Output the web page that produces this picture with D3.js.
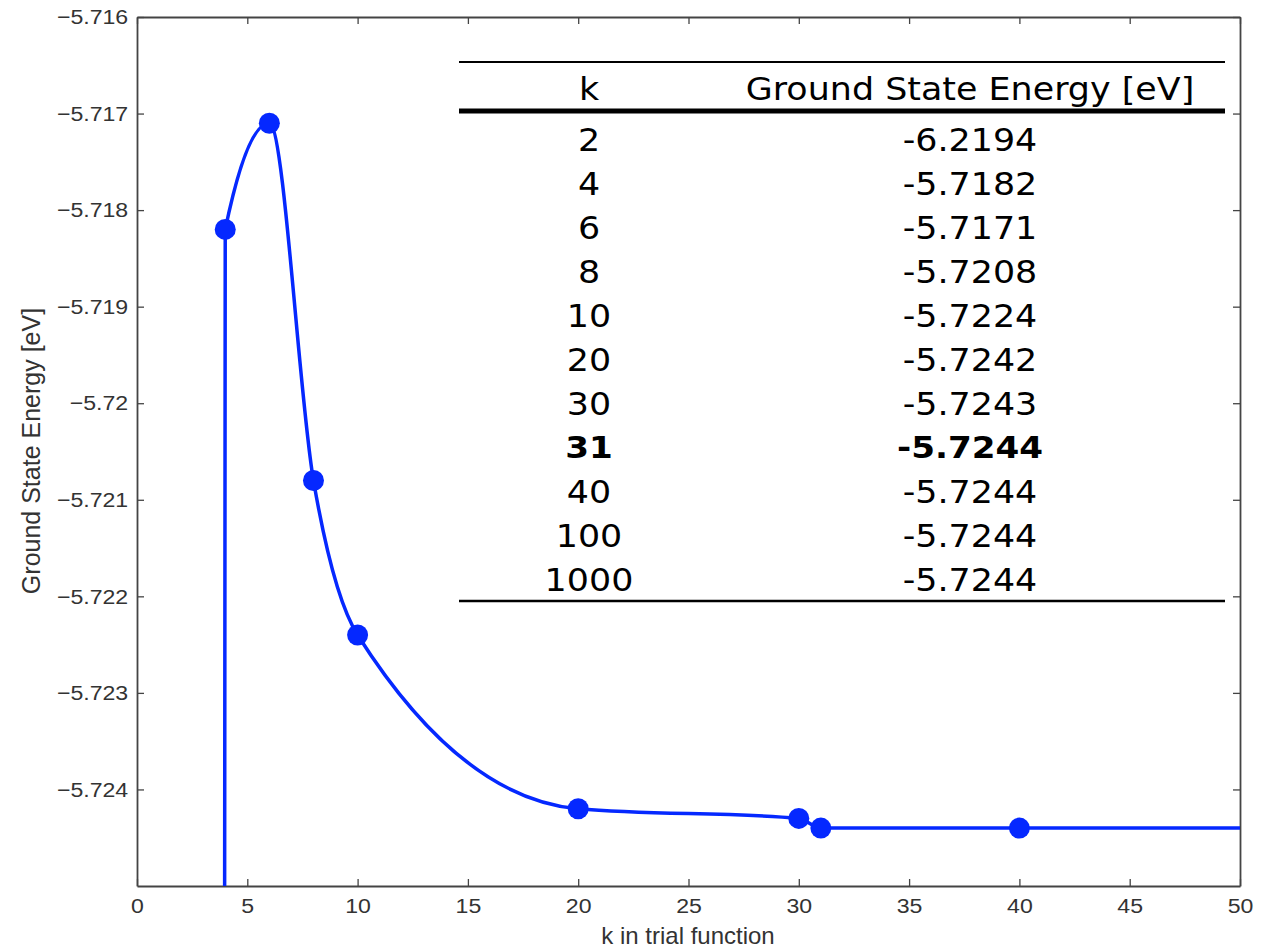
<!DOCTYPE html>
<html>
<head>
<meta charset="utf-8">
<script src="https://cdn.jsdelivr.net/npm/d3@7"></script>
<style>
  body { margin: 0; background: #fff; }
  .axis text { font-family: "Liberation Sans", Arial, sans-serif; font-size: 21px; fill: #333; }
  .axis path, .axis line { stroke: #444; }
</style>
</head>
<body>
<div id="chart"></div>
<script>
const kValues = [2, 4, 6, 8, 10, 20, 30, 31, 40, 100, 1000];
const energies = [-6.2194, -5.7182, -5.7171, -5.7208, -5.7224, -5.7242, -5.7243, -5.7244, -5.7244, -5.7244, -5.7244];
const xTicks = [0, 5, 10, 15, 20, 25, 30, 35, 40, 45, 50];
const yTicks = [-5.716, -5.717, -5.718, -5.719, -5.72, -5.721, -5.722, -5.723, -5.724];
const tableHeader = ["k", "Ground State Energy [eV]"];
const highlightK = 31;

const width = 1270, height = 949;
const margin = { top: 17, right: 30, bottom: 63, left: 137 };
const innerW = width - margin.left - margin.right;
const innerH = height - margin.top - margin.bottom;
const blue = "#0528ff";

const svg = d3.select("#chart")
  .append("svg")
  .attr("width", width)
  .attr("height", height);

const g = svg.append("g")
  .attr("transform", `translate(${margin.left},${margin.top})`);

const x = d3.scaleLinear().domain([0, 50]).range([0, innerW]);
const y = d3.scaleLinear().domain([-5.725, -5.716]).range([innerH, 0]);

const points = kValues.map((k, i) => ({ k: k, e: energies[i] }));

// clip to the plot box
g.append("clipPath").attr("id", "clip")
  .append("rect").attr("width", innerW).attr("height", innerH);

// axes, ticks pointing inward like matlab
const fmt = d3.format(".3~f");
const xAxis = g.append("g").attr("class", "axis")
  .attr("transform", `translate(0,${innerH})`)
  .call(d3.axisBottom(x).tickValues(xTicks).tickSizeInner(-7).tickSizeOuter(0).tickPadding(12));
g.append("g").attr("class", "axis")
  .call(d3.axisTop(x).tickValues(xTicks).tickSizeInner(-7).tickSizeOuter(0).tickFormat(""));
const yAxis = g.append("g").attr("class", "axis")
  .call(d3.axisLeft(y).tickValues(yTicks).tickFormat(fmt).tickSizeInner(-7).tickSizeOuter(0).tickPadding(8));
g.append("g").attr("class", "axis")
  .attr("transform", `translate(${innerW},0)`)
  .call(d3.axisRight(y).tickValues(yTicks).tickSizeInner(-7).tickSizeOuter(0).tickFormat(""));

g.selectAll(".axis path").attr("stroke-width", 1.8);
g.selectAll(".axis line").attr("stroke-width", 1.3);
xAxis.selectAll("text").attr("transform", "scale(1.1,1)");
yAxis.selectAll("text").attr("transform", "scale(1.1,1)");

// curve + markers
const line = d3.line()
  .x(d => x(d.k))
  .y(d => y(d.e))
  .curve(d3.curveMonotoneX);

const plot = g.append("g").attr("clip-path", "url(#clip)");
plot.append("path")
  .datum(points)
  .attr("fill", "none")
  .attr("stroke", blue)
  .attr("stroke-width", 3.5)
  .attr("d", line);

plot.selectAll("circle")
  .data(points)
  .join("circle")
  .attr("cx", d => x(d.k))
  .attr("cy", d => y(d.e))
  .attr("r", 10.5)
  .attr("fill", blue);

// axis titles
svg.append("text")
  .attr("x", 688)
  .attr("y", 944)
  .attr("text-anchor", "middle")
  .attr("font-family", "Liberation Sans, Arial, sans-serif")
  .attr("font-size", 24)
  .attr("fill", "#333")
  .text("k in trial function");

svg.append("text")
  .attr("transform", `translate(40,451) rotate(-90)`)
  .attr("text-anchor", "middle")
  .attr("font-family", "Liberation Sans, Arial, sans-serif")
  .attr("font-size", 25)
  .attr("fill", "#333")
  .text("Ground State Energy [eV]");

// the table drawn on top of the plot
const tbl = svg.append("g");
const tblLeft = 459, tblRight = 1225;
const colX = [589, 970];
const rowY = d3.scalePoint().domain(d3.range(kValues.length)).range([139, 579]);

tbl.append("line").attr("x1", tblLeft).attr("x2", tblRight).attr("y1", 62).attr("y2", 62)
  .attr("stroke", "#000").attr("stroke-width", 2.2);
tbl.append("line").attr("x1", tblLeft).attr("x2", tblRight).attr("y1", 111).attr("y2", 111)
  .attr("stroke", "#000").attr("stroke-width", 5);
tbl.append("line").attr("x1", tblLeft).attr("x2", tblRight).attr("y1", 601).attr("y2", 601)
  .attr("stroke", "#000").attr("stroke-width", 2.5);

tbl.selectAll("text.head")
  .data(tableHeader)
  .join("text")
  .attr("class", "head")
  .attr("transform", (d, i) => `translate(${colX[i]},100) scale(1.09,1)`)
  .attr("text-anchor", "middle")
  .attr("font-family", "DejaVu Sans, Verdana, sans-serif")
  .attr("font-size", 32)
  .attr("fill", "#000")
  .text(d => d);

const cells = [];
points.forEach((p, i) => {
  cells.push({ row: i, col: 0, text: String(p.k), bold: p.k === highlightK });
  cells.push({ row: i, col: 1, text: p.e.toFixed(4), bold: p.k === highlightK });
});

tbl.selectAll("text.cell")
  .data(cells)
  .join("text")
  .attr("class", "cell")
  .attr("transform", d => `translate(${colX[d.col]},${rowY(d.row)}) scale(${d.bold ? 1.14 : 1.09},1)`)
  .attr("dy", "0.36em")
  .attr("text-anchor", "middle")
  .attr("font-family", "DejaVu Sans, Verdana, sans-serif")
  .attr("font-weight", d => d.bold ? "bold" : "normal")
  .attr("font-size", d => d.bold ? 30 : 32)
  .attr("fill", "#000")
  .text(d => d.text);
</script>
</body>
</html>
